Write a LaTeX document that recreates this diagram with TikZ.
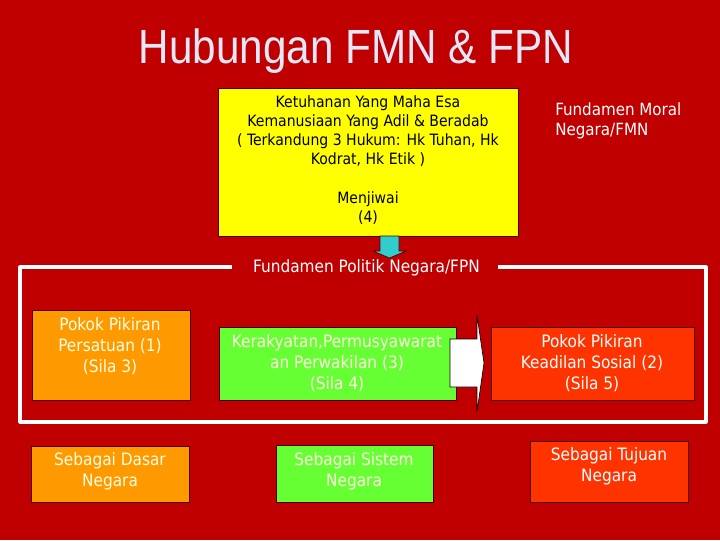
\documentclass[tikz,border=0pt]{standalone}
\usepackage{fontspec}
\setmainfont{DejaVu Sans Condensed}
\newfontfamily\titlefont{Liberation Sans}
\usetikzlibrary{fit}
\definecolor{bgred}{RGB}{192,0,0}
\definecolor{boxyellow}{RGB}{255,255,0}
\definecolor{boxorange}{RGB}{255,153,0}
\definecolor{boxgreen}{RGB}{102,255,51}
\definecolor{boxred}{RGB}{255,51,0}
\definecolor{arrowcyan}{RGB}{51,204,204}
\definecolor{titlecol}{RGB}{226,232,248}
\definecolor{cream}{RGB}{255,255,226}
\definecolor{edgecol}{RGB}{70,0,0}
\tikzset{
  box/.style={draw=edgecol, line width=0.75pt, inner sep=0pt},
  boxtext/.style={align=center, font=\fontsize{12.8}{15.75}\selectfont, text=cream, inner sep=0pt},
  frameline/.style={draw=white, line width=2.4pt, line join=round},
}
\begin{document}
\begin{tikzpicture}[x=0.75pt,y=-0.75pt]
\useasboundingbox (0,0) rectangle (720,540);
\fill[bgred] (0,0) rectangle (720,540);

% title
\node[anchor=base, text=titlecol, inner sep=0pt] (title) at (356,63)
  {\titlefont\fontsize{36}{40}\selectfont\scalebox{0.88}[1]{Hubungan FMN \& FPN}};

% frame
\coordinate (fl) at (232,267);
\coordinate (fr) at (498,267);
\draw[frameline] (fl) -- (20,267) -- (20,422) -- (706,422) -- (706,267) -- (fr);
\node[boxtext, text=white, font=\fontsize{12.8}{15}\selectfont] (fpn) at (366.5,268) {Fundamen Politik Negara/FPN};

% yellow box
\node[box, fill=boxyellow, fit={(218,88) (518,236)}] (fmnbox) {};
\node[align=center, inner sep=0pt, font=\fontsize{11.7}{14.4}\selectfont] (fmntext) at (368,160)
  {Ketuhanan Yang Maha Esa\\Kemanusiaan Yang Adil \& Beradab\\( Terkandung 3 Hukum: Hk Tuhan, Hk\\Kodrat, Hk Etik )\\[14.4pt]Menjiwai\\(4)};
\node[align=left, anchor=west, text=white, inner sep=0pt, font=\fontsize{12.6}{15}\selectfont] (fmnlabel) at (555,121)
  {Fundamen Moral\\Negara/FMN};

% cyan arrow
\filldraw[fill=arrowcyan, draw=edgecol, line width=0.5pt]
  (380,236) -- (399,236) -- (399,251) -- (406,251) -- (389.5,258) -- (373,251) -- (380,251) -- cycle;

% middle row
\node[box, fill=boxorange, fit={(32,310) (190,400)}] (persatuan) {};
\node[boxtext] (persatuant) at (110,346.5) {Pokok Pikiran\\Persatuan (1)\\(Sila 3)};
\node[box, fill=boxgreen, fit={(219,327) (456,400)}] (kerakyatan) {};
\node[boxtext] (kerakyatant) at (337,363) {Kerakyatan,Permusyawarat\\an Perwakilan (3)\\(Sila 4)};
\node[box, fill=boxred, fit={(491,327) (694,400)}] (keadilan) {};
\node[boxtext, text=white] (keadilant) at (592,363) {Pokok Pikiran\\Keadilan Sosial (2)\\(Sila 5)};

% white block arrow
\filldraw[fill=white, draw=black, line width=0.5pt]
  (450,339) -- (477,339) -- (477,315) -- (484,363) -- (477,412) -- (477,387) -- (450,387) -- cycle;

% bottom row
\node[box, fill=boxorange, fit={(31,446) (189,502)}] (dasar) {};
\node[boxtext] (dasart) at (110,471) {Sebagai Dasar\\Negara};
\node[box, fill=boxgreen, fit={(276,445) (433,502)}] (sistem) {};
\node[boxtext] (sistemt) at (354,471) {Sebagai Sistem\\Negara};
\node[box, fill=boxred, fit={(530,441) (688,502)}] (tujuan) {};
\node[boxtext, text=white] (tujuant) at (609,466.5) {Sebagai Tujuan\\Negara};
\end{tikzpicture}
\end{document}
